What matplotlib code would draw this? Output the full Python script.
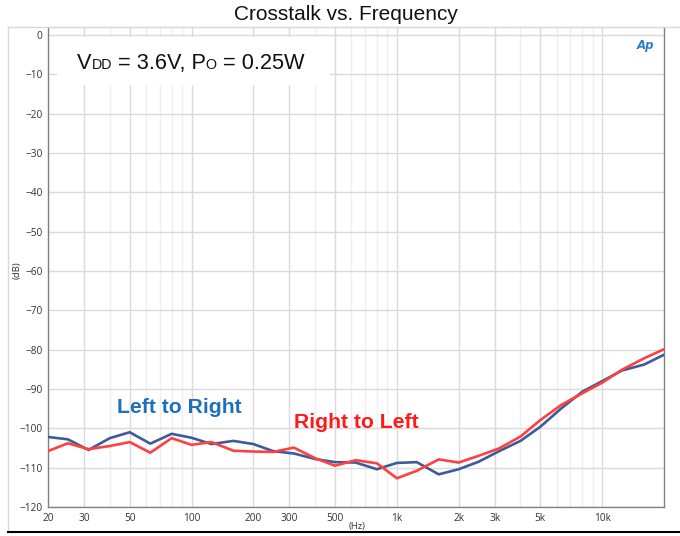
import matplotlib
matplotlib.use("Agg")
import matplotlib.pyplot as plt
from matplotlib.lines import Line2D
from matplotlib.patches import Rectangle
from matplotlib.offsetbox import TextArea, HPacker, AnchoredOffsetbox
from matplotlib.ticker import FixedLocator, LogLocator, NullFormatter


# 1/3-octave measurement points (Hz)
FREQ = [20, 25, 31.5, 40, 50, 63, 80, 100, 125, 160, 200, 250, 315, 400,
        500, 630, 800, 1000, 1250, 1600, 2000, 2500, 3150, 4000, 5000,
        6300, 8000, 10000, 12500, 16000, 20000]

LEFT_TO_RIGHT = [-102.2, -102.8, -105.5, -102.5, -101.0, -103.9, -101.4,
                 -102.4, -104.0, -103.2, -104.0, -105.8, -106.4, -107.8,
                 -108.6, -108.7, -110.4, -108.8, -108.6, -111.7, -110.4,
                 -108.5, -105.8, -103.2, -99.6, -95.0, -90.7, -88.0,
                 -85.3, -83.8, -81.3]

RIGHT_TO_LEFT = [-105.8, -103.8, -105.3, -104.5, -103.5, -106.2, -102.5,
                 -104.2, -103.5, -105.7, -105.9, -106.0, -104.9, -107.6,
                 -109.5, -108.1, -108.9, -112.7, -110.8, -107.9, -108.7,
                 -107.0, -105.1, -102.1, -97.9, -94.1, -91.1, -88.4,
                 -85.1, -82.2, -79.9]

X_TICKS = [20, 30, 50, 100, 200, 300, 500, 1000, 2000, 3000, 5000, 10000]
X_TICK_LABELS = ["20", "30", "50", "100", "200", "300", "500", "1k", "2k",
                 "3k", "5k", "10k"]
Y_TICKS = list(range(-120, 1, 10))

W, H = 680, 536
BLUE = "#3d5a99"
RED = "#ff4040"


def main() -> None:
    fig = plt.figure(figsize=(W / 100, H / 100), dpi=100)
    ax = fig.add_axes([48 / W, (H - 507) / H, 616 / W, 480 / H])

    ax.set_xscale("log")
    ax.set_xlim(20, 20000)
    ax.set_ylim(-120, 2)

    ax.xaxis.set_major_locator(FixedLocator(X_TICKS))
    ax.set_xticklabels(X_TICK_LABELS)
    ax.xaxis.set_minor_locator(LogLocator(subs=(4, 6, 7, 8, 9)))
    ax.xaxis.set_minor_formatter(NullFormatter())
    ax.set_yticks(Y_TICKS)

    ax.grid(True, which="major", color="#dadada", linewidth=1.0, zorder=0)
    ax.grid(True, which="minor", axis="x", color="#efefef", linewidth=1.0,
            zorder=0)
    ax.set_axisbelow(True)

    ax.tick_params(which="both", length=0, labelsize=7.3, labelcolor="#333333",
                   labelfontfamily="Open Sans")
    ax.tick_params(axis="x", pad=4)
    ax.tick_params(axis="y", pad=4)

    for side in ("left", "bottom", "right"):
        ax.spines[side].set_color("#808080")
        ax.spines[side].set_linewidth(1.0)
    ax.spines["top"].set_color("#d0d0d0")

    ax.plot(FREQ, LEFT_TO_RIGHT, color=BLUE, linewidth=1.9, zorder=3)
    ax.plot(FREQ, RIGHT_TO_LEFT, color=RED, linewidth=1.9, zorder=3)

    # white panel behind the condition text, hides the grid there
    ax.add_patch(Rectangle((0.015, 0.879), 0.443, 0.1, transform=ax.transAxes,
                           facecolor="white", edgecolor="none", zorder=1))

    big = dict(fontsize=15.7, family="Liberation Sans", color="#111111")
    small = dict(fontsize=10.3, family="Liberation Sans", color="#111111")
    parts = [TextArea("V", textprops=big), TextArea("DD", textprops=small),
             TextArea(" = 3.6V, P", textprops=big),
             TextArea("O", textprops=small),
             TextArea(" = 0.25W", textprops=big)]
    box = HPacker(children=parts, align="baseline", pad=0, sep=0)
    anchored = AnchoredOffsetbox(loc="upper left", child=box, frameon=False,
                                 bbox_to_anchor=(77 / W, 1 - 53 / H),
                                 bbox_transform=fig.transFigure,
                                 borderpad=0, pad=0)
    anchored.set_zorder(4)
    ax.add_artist(anchored)

    ax.text(43.3, -94.7, "Left to Right", color="#1f6fbf", fontsize=15.2,
            fontweight="bold", family="Liberation Sans", va="center",
            ha="left", zorder=4)
    ax.text(315, -98.5, "Right to Left", color="#ff1a1a", fontsize=15.2,
            fontweight="bold", family="Liberation Sans", va="center",
            ha="left", zorder=4)

    # Audio Precision style logo
    ax.text(0.985, 0.962, "Ap", transform=ax.transAxes, color="#2a7fc4",
            fontsize=8.5, fontweight="bold", style="italic", ha="right",
            va="center", family="DejaVu Sans", zorder=4)

    fig.text(346 / W, 1 - 15 / H, "Crosstalk vs. Frequency", ha="center",
             va="center", fontsize=15, family="Liberation Sans",
             color="#111111")
    fig.text(17 / W, 1 - 270 / H, "(dB)", rotation=90, ha="center",
             va="center", fontsize=6.8, family="Open Sans", color="#333333")
    fig.text(357 / W, 1 - 527 / H, "(Hz)", ha="center", va="center",
             fontsize=6.8, family="Open Sans", color="#333333")

    # outer frame
    fig.add_artist(Line2D([8 / W, 8 / W], [1 - 27 / H, 1 - 532 / H],
                          transform=fig.transFigure, color="#d8d8d8",
                          linewidth=1.0))
    fig.add_artist(Line2D([8 / W, 1], [1 - 27 / H, 1 - 27 / H],
                          transform=fig.transFigure, color="#d8d8d8",
                          linewidth=1.0))
    fig.add_artist(Line2D([8 / W, 1], [1 - 532 / H, 1 - 532 / H],
                          transform=fig.transFigure, color="black",
                          linewidth=1.5))

    fig.savefig("out.png", dpi=100)
    plt.close(fig)


if __name__ == "__main__":
    main()
